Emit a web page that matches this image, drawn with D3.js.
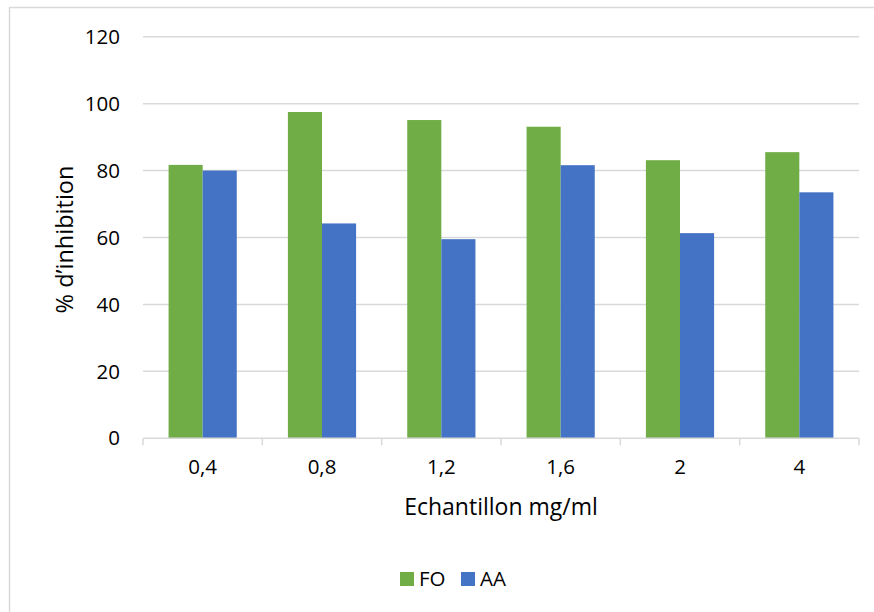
<!DOCTYPE html>
<html>
<head>
<meta charset="utf-8">
<script src="https://cdn.jsdelivr.net/npm/d3@7"></script>
<style>
  html, body { margin: 0; padding: 0; background: #fff; }
  svg { display: block; font-family: "Open Sans", Lato, sans-serif; }
</style>
</head>
<body>
<svg id="chart" width="874" height="612"></svg>
<script>
// Concentrations tested (x categories)
const categories = ["0,4", "0,8", "1,2", "1,6", "2", "4"];
// Series names and values (% inhibition)
const seriesNames = ["FO", "AA"];
const foValues = [81.7, 97.5, 95.1, 93.1, 83.1, 85.5];
const aaValues = [80.0, 64.2, 59.5, 81.6, 61.3, 73.5];
const yTicks = [0, 20, 40, 60, 80, 100, 120];
const colors = ["#70AD47", "#4472C4"];

const svg = d3.select("#chart");

// Chart frame (left and top edges visible)
svg.append("rect")
  .attr("x", 9.5).attr("y", 7.5)
  .attr("width", 900).attr("height", 700)
  .attr("fill", "#fff")
  .attr("stroke", "#d9d9d9").attr("stroke-width", 1.5);

const plot = { left: 143, right: 859, top: 36.7, bottom: 438.3 };

const y = d3.scaleLinear().domain([0, 120]).range([plot.bottom, plot.top]);
const x0 = d3.scaleBand().domain(categories).range([plot.left, plot.right]).padding(0);
const bw = x0.bandwidth();
// gap width 150% of one bar on each group
const barW = bw / 3.5;
const x1 = d3.scaleBand().domain(seriesNames)
  .range([(bw - 2 * barW) / 2, (bw + 2 * barW) / 2]).padding(0);

// Horizontal gridlines
svg.append("g")
  .selectAll("line")
  .data(yTicks.filter(t => t > 0))
  .join("line")
  .attr("x1", plot.left).attr("x2", plot.right)
  .attr("y1", d => y(d)).attr("y2", d => y(d))
  .attr("stroke", "#d9d9d9").attr("stroke-width", 1.5);

// Y tick labels
svg.append("g")
  .selectAll("text")
  .data(yTicks)
  .join("text")
  .attr("x", 120)
  .attr("y", d => y(d))
  .attr("dy", "0.35em")
  .attr("text-anchor", "end")
  .attr("font-size", 20.5)
  .attr("fill", "#000")
  .text(d => d);

// Bars
const rows = categories.map((c, i) => ({ cat: c, values: [foValues[i], aaValues[i]] }));
const groups = svg.append("g")
  .selectAll("g")
  .data(rows)
  .join("g")
  .attr("transform", d => `translate(${x0(d.cat)},0)`);

groups.selectAll("rect")
  .data(d => d.values.map((v, k) => ({ name: seriesNames[k], value: v, k })))
  .join("rect")
  .attr("x", d => x1(d.name))
  .attr("width", x1.bandwidth())
  .attr("y", d => y(d.value))
  .attr("height", d => y(0) - y(d.value))
  .attr("fill", d => colors[d.k]);

// X axis
const xAxis = svg.append("g")
  .attr("transform", `translate(0,${plot.bottom})`);
xAxis.append("line")
  .attr("x1", plot.left).attr("x2", plot.right)
  .attr("stroke", "#d9d9d9").attr("stroke-width", 1.5);
const tickPos = categories.map(c => x0(c)).concat([plot.right]);
xAxis.selectAll("line.tick")
  .data(tickPos)
  .join("line")
  .attr("class", "tick")
  .attr("x1", d => d).attr("x2", d => d)
  .attr("y1", 0).attr("y2", 7)
  .attr("stroke", "#d9d9d9").attr("stroke-width", 1.5);
xAxis.selectAll("text")
  .data(categories)
  .join("text")
  .attr("x", d => x0(d) + bw / 2)
  .attr("y", 29)
  .attr("dy", "0.35em")
  .attr("text-anchor", "middle")
  .attr("font-size", 20.5)
  .attr("fill", "#000")
  .text(d => d);

// Axis titles
svg.append("text")
  .attr("x", 501).attr("y", 515)
  .attr("text-anchor", "middle")
  .attr("font-size", 23)
  .attr("fill", "#000")
  .text("Echantillon mg/ml");

svg.append("text")
  .attr("transform", `translate(73,${(plot.top + plot.bottom) / 2 + 2}) rotate(-90)`)
  .attr("text-anchor", "middle")
  .attr("font-size", 23.5)
  .attr("fill", "#000")
  .text("% d’inhibition");

// Legend
const legend = svg.append("g").attr("transform", "translate(400,572)");
const items = [{ name: "FO", x: 0 }, { name: "AA", x: 61 }];
items.forEach((it, k) => {
  legend.append("rect")
    .attr("x", it.x).attr("y", 0)
    .attr("width", 14).attr("height", 14)
    .attr("fill", colors[k]);
  legend.append("text")
    .attr("x", it.x + 19).attr("y", 7)
    .attr("dy", "0.35em")
    .attr("font-size", 20.5)
    .attr("fill", "#000")
    .text(it.name);
});
</script>
</body>
</html>
